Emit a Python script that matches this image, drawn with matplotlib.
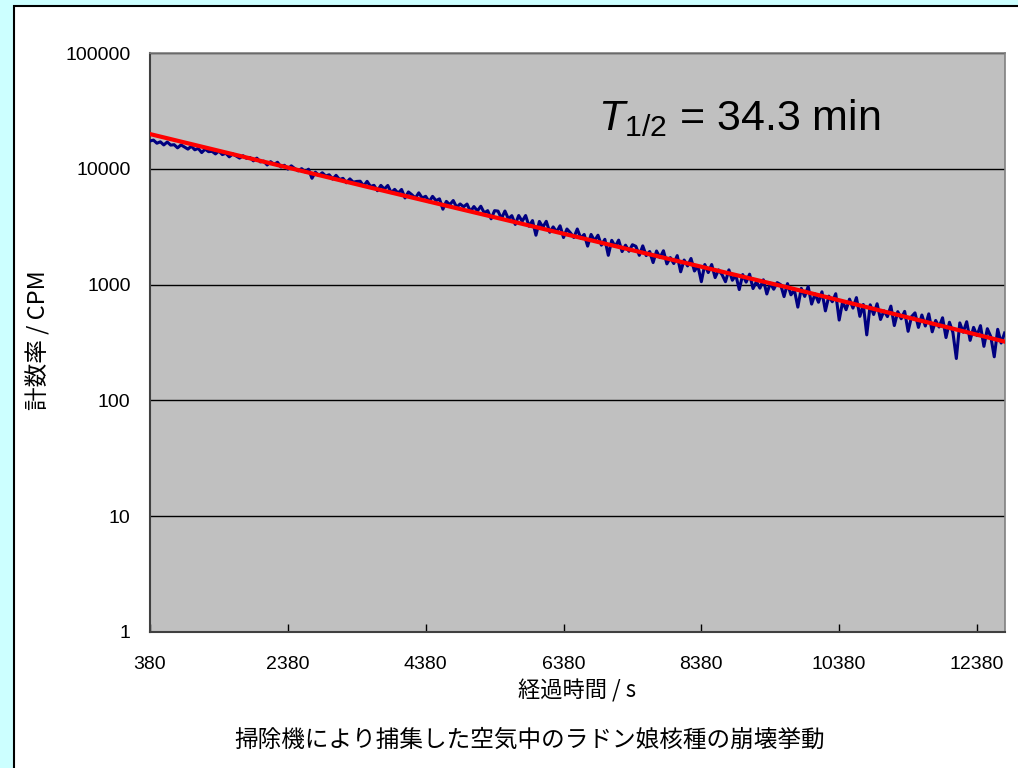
import numpy as np
import matplotlib
matplotlib.use("Agg")
import matplotlib.pyplot as plt
from matplotlib.patches import Rectangle

# ---------------- data ----------------
t_start = 380          # s
t_step = 50            # s
count_rate = [
    17380, 17690, 16630, 17100, 16070, 17030, 16020, 16150, 15170, 16080,
    15430, 14790, 15670, 14590, 15000, 13810, 14790, 14050, 14160, 13440,
    14240, 13260, 13640, 12680, 13450, 12900, 12370, 12970, 12320,
    12510, 11710, 12370, 11470, 11650, 10790, 11520, 10900, 11390, 10360,
    10730, 9940, 10610, 10050, 9600, 10030, 9400, 9920, 8280, 9350,
    8750, 9240, 8660, 8880, 8150, 8780, 8070, 8270, 7580, 8180,
    7660, 7780,
    7810, 7100, 7790, 7030, 7200, 6470, 7190, 6680, 7180, 6220,
    6640, 6160, 6630, 5600, 6310, 5970, 5590, 6200, 5590, 5790,
    5200, 5780, 5310, 5500, 4480, 5230, 4900, 5320, 4650, 4970,
    4700, 4960, 4280, 4720, 4330, 4750, 4160, 4350, 3700, 4350,
    4310, 3720, 4320, 3700, 3940, 3310, 3950, 3520, 3950, 3190,
    3570, 2670, 3510, 3130, 3520, 2830, 3150, 2850, 3220, 2550,
    3020, 2800, 2550, 3020, 2520, 2710, 2150, 2710, 2390, 2670,
    2190, 2460, 1790, 2410, 2130, 2420, 1930, 2190, 1940, 2210,
    2140, 1790, 2160, 1780, 1930, 1550, 1950, 1710, 1960, 1510,
    1710, 1520, 1780, 1290, 1630, 1450, 1680, 1310, 1450, 1060,
    1490, 1270, 1490, 1150, 1340, 1220, 1060, 1340, 1090, 1210,
    906, 1220, 1050, 1230, 925, 1060, 932, 1100, 830, 1030,
    912, 1040,
    1000, 788, 1020, 816, 897, 639, 927, 791, 962, 679,
    831, 704, 866, 593, 795, 711, 834, 494, 712, 607,
    749, 627, 772, 532, 673, 368, 669, 552, 683, 500,
    594, 529, 652, 443, 584, 507, 587, 395, 529, 570,
    427, 546, 439, 559, 391, 490, 430, 517, 349, 473,
    386, 230, 467, 388, 478, 330, 427, 363, 442, 293,
    416, 355, 238, 411, 313, 382,
]
time_s = t_start + t_step * np.arange(len(count_rate))

fit_time = [380, 3543, 6576, 9666, 12780]
fit_rate = [19950, 6960, 2580, 935, 322]

x_ticks = [380, 2380, 4380, 6380, 8380, 10380, 12380]
y_ticks = [1, 10, 100, 1000, 10000, 100000]
y_tick_labels = ["1", "10", "100", "1000", "10000", "100000"]

x_label = "経過時間 / s"
y_label = "計数率 / CPM"
caption = "掃除機により捕集した空気中のラドン娘核種の崩壊挙動"
annotation = r"$T_{1/2}$ = 34.3 min"

# ---------------- figure ----------------
W, H = 1018, 768
plt.rcParams["font.family"] = ["Liberation Sans", "DejaVu Sans"]
plt.rcParams["mathtext.fontset"] = "custom"
plt.rcParams["mathtext.rm"] = "Liberation Sans"
plt.rcParams["mathtext.it"] = "Liberation Sans:italic"

fig = plt.figure(figsize=(W / 100, H / 100), dpi=100)
fig.patch.set_facecolor("#CCFFFF")

# white chart panel
panel = Rectangle((14 / W, -0.05), 1.2, (H - 6) / H + 0.05,
                  transform=fig.transFigure, facecolor="white",
                  edgecolor="black", linewidth=1.5, zorder=-10)
fig.patches.append(panel)

ax_l, ax_r, ax_t, ax_b = 150, 1005, 53, 632
ax = fig.add_axes([ax_l / W, 1 - ax_b / H, (ax_r - ax_l) / W, (ax_b - ax_t) / H])
ax.set_zorder(1)
ax.set_facecolor("#C0C0C0")

ax.plot(time_s, count_rate, color="#000080", linewidth=2.2, zorder=3)
ax.plot(fit_time, fit_rate, color="#FF0000", linewidth=3.0, zorder=4)

ax.set_yscale("log")
ax.set_ylim(1, 100000)
ax.set_xlim(380, 12786)
ax.set_yticks(y_ticks)
ax.set_yticklabels(y_tick_labels)
ax.yaxis.set_minor_locator(matplotlib.ticker.NullLocator())
ax.set_xticks(x_ticks)
ax.set_xticklabels([str(v) for v in x_ticks])

ax.grid(axis="y", which="major", color="black", linewidth=1.0, zorder=1)
ax.set_axisbelow(True)

ax.tick_params(axis="x", direction="in", length=6, width=1, colors="black",
               labelsize=14, pad=17)
ax.tick_params(axis="y", direction="in", length=0, labelsize=14, pad=14)

for side in ["left", "bottom"]:
    ax.spines[side].set_color("#404040")
    ax.spines[side].set_linewidth(1.5)
for side in ["top", "right"]:
    ax.spines[side].set_color("#808080")
    ax.spines[side].set_linewidth(1.2)

cjk = ["Noto Sans CJK JP", "DejaVu Sans"]
fig.text(577 / W, 1 - 691 / H, x_label, ha="center", va="center",
         fontsize=16, family=cjk)
fig.text(38 / W, 1 - 340 / H, y_label, ha="center", va="center",
         fontsize=17, family=cjk, rotation=90)
fig.text(530 / W, 1 - 740 / H, caption, ha="center", va="center",
         fontsize=17, family=cjk)

fig.text(598 / W, 1 - 130 / H, annotation, ha="left", va="baseline",
         fontsize=31)

fig.savefig("out.png", dpi=100, facecolor=fig.get_facecolor())
